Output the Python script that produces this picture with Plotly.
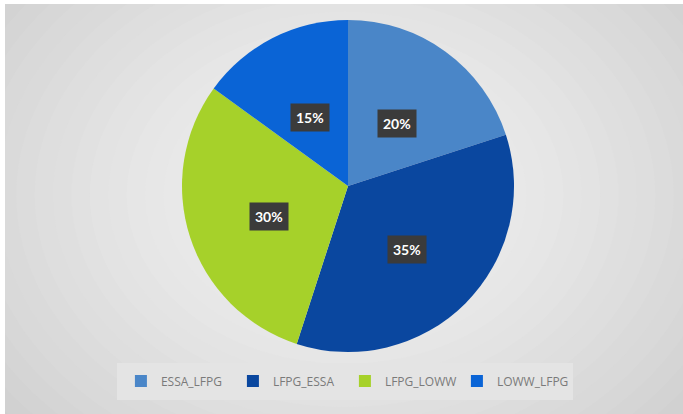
import math
import plotly.graph_objects as go

# Route share data
routes = ["ESSA_LFPG", "LFPG_ESSA", "LFPG_LOWW", "LOWW_LFPG"]
shares = [20, 35, 30, 15]
colors = ["#4a86c8", "#0a479f", "#a6d12a", "#0a64d6"]

W, H = 683, 414
cx, cy, R = 348, 186, 166  # pie centre / radius in pixels (y from top)

fig = go.Figure()

fig.add_trace(go.Pie(
    labels=routes,
    values=shares,
    sort=False,
    direction="clockwise",
    rotation=0,
    marker=dict(colors=colors, line=dict(width=0)),
    textinfo="none",
    hoverinfo="label+percent",
    domain=dict(x=[(cx - R) / W, (cx + R) / W],
                y=[(H - cy - R) / H, (H - cy + R) / H]),
))

# Soft radial backdrop made of stacked opaque ellipses
shapes = []
steps = 24
gx, gy = 345 / W, 1 - 195 / H
for i in range(steps):
    t = i / (steps - 1)
    g = int(206 + (244 - 206) * t ** 0.8)
    hw = 0.62 * (1 - t) + 0.05
    hh = 0.80 * (1 - t) + 0.06
    shapes.append(dict(type="circle", xref="paper", yref="paper",
                       x0=gx - hw, x1=gx + hw, y0=gy - hh, y1=gy + hh,
                       fillcolor=f"rgb({g},{g},{g})",
                       line=dict(width=0), layer="below"))
# thin white frame on the top and left edges
shapes.append(dict(type="rect", xref="paper", yref="paper", x0=0, x1=5 / W, y0=0, y1=1,
                   fillcolor="white", line=dict(width=0), layer="below"))
shapes.append(dict(type="rect", xref="paper", yref="paper", x0=0, x1=1, y0=1 - 4 / H, y1=1,
                   fillcolor="white", line=dict(width=0), layer="below"))

# Percentage callouts with dark boxes, placed at the middle angle of each slice
annotations = []
total = sum(shares)
start = 0.0
lab_cy = cy + 5  # callout ring sits slightly below the pie centre
for name, v in zip(routes, shares):
    frac = v / total
    mid = (start + frac / 2) * 2 * math.pi
    start += frac
    rr = 0.5 * R
    px = cx + rr * math.sin(mid)
    py = lab_cy - rr * math.cos(mid)
    annotations.append(dict(
        x=px / W, y=1 - py / H, xref="paper", yref="paper",
        xanchor="center", yanchor="middle",
        text=f"<b>{round(frac * 100)}%</b>", showarrow=False,
        font=dict(family="Lato, DejaVu Sans", size=14, color="white"),
        bgcolor="#3b3b3b", borderpad=5,
    ))

fig.update_layout(
    width=W, height=H,
    margin=dict(l=0, r=0, t=0, b=0),
    paper_bgcolor="#cdcdcd",
    plot_bgcolor="#cdcdcd",
    shapes=shapes,
    annotations=annotations,
    showlegend=True,
    legend=dict(
        orientation="h", x=0.505, xanchor="center", y=0.035, yanchor="bottom",
        bgcolor="#e4e4e4", bordercolor="#e4e4e4", borderwidth=4,
        font=dict(family="Open Sans, DejaVu Sans", size=12, color="#7a7a7a"),
        itemwidth=30, entrywidth=67, traceorder="normal",
    ),
)

fig.write_html("out.html")
